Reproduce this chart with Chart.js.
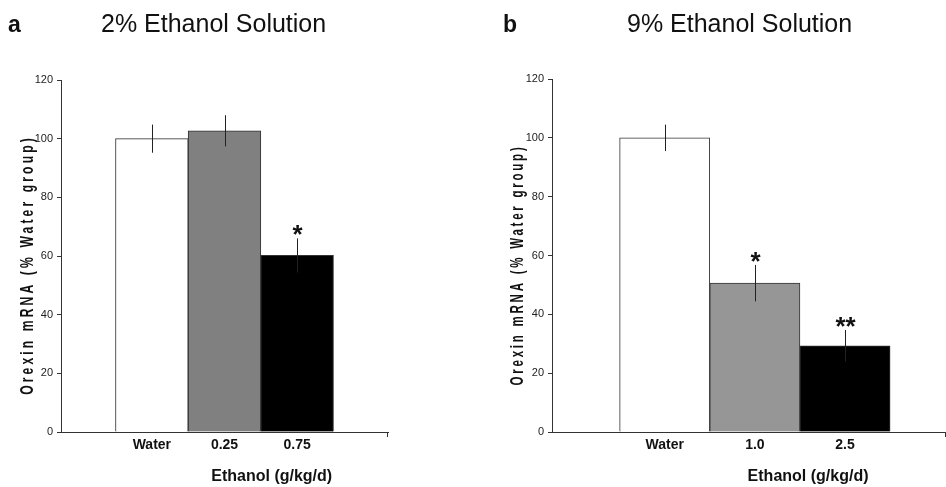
<!DOCTYPE html>
<html>
<head>
<meta charset="utf-8">
<script src="https://cdn.jsdelivr.net/npm/chart.js@4.4.1/dist/chart.umd.min.js"></script>
<style>
  html, body { margin: 0; padding: 0; background: #ffffff; }
  #wrap { position: relative; width: 946px; height: 487px; overflow: hidden; background: #fff; }
  canvas { position: absolute; top: 0; }
  .t { position: absolute; font-family: "Liberation Sans", Arial, sans-serif; color: #111; white-space: nowrap; line-height: 1; }
  .letter { font-weight: bold; font-size: 23px; }
  .title { font-size: 25px; }
</style>
</head>
<body>
<div id="wrap">
  <canvas id="cA" width="470" height="487" style="left:0px"></canvas>
  <canvas id="cB" width="476" height="487" style="left:470px"></canvas>
  <div class="t letter" style="left:8px;top:13px">a</div>
  <div class="t title" style="left:101px;top:11px">2% Ethanol Solution</div>
  <div class="t letter" style="left:503px;top:13px">b</div>
  <div class="t title" style="left:627px;top:11px">9% Ethanol Solution</div>
</div>
<script>
// ---- data ----
const catsA = ["Water", "0.25", "0.75"];
const meanA = [100, 102.7, 60.2];
const semA  = [4.8, 5.3, 5.8];
const sigA  = ["", "", "*"];

const catsB = ["Water", "1.0", "2.5"];
const meanB = [100, 50.6, 29.3];
const semB  = [4.5, 6.2, 5.4];
const sigB  = ["", "*", "**"];

const yMin = 0, yMax = 120, yStep = 20;
const xTitle = "Ethanol (g/kg/d)";
const yTitle = "Orexin mRNA (% Water group)";

const FONT = '"Liberation Sans", Arial, sans-serif';

const overlay = {
  id: 'overlay',
  afterDatasetsDraw(chart, args, o) {
    const ctx = chart.ctx;
    const xs = chart.scales.x, ys = chart.scales.y;
    const meta = chart.getDatasetMeta(0);
    const ca = chart.chartArea;
    ctx.save();
    // error bars + significance marks
    meta.data.forEach((el, i) => {
      const x = Math.round(el.x) + 0.5;
      const t = ys.getPixelForValue(o.means[i] + o.sems[i]);
      const b = ys.getPixelForValue(o.means[i] - o.sems[i]);
      ctx.strokeStyle = '#222';
      ctx.lineWidth = 1;
      ctx.beginPath(); ctx.moveTo(x, t); ctx.lineTo(x, b); ctx.stroke();
      if (o.sigs[i]) {
        ctx.fillStyle = '#111';
        ctx.font = 'bold 26px ' + FONT;
        ctx.textAlign = 'center';
        ctx.textBaseline = 'alphabetic';
        ctx.fillText(o.sigs[i], x, t + 5);
      }
    });
    // small tick at the right end of the x axis
    ctx.strokeStyle = '#333';
    ctx.lineWidth = 1;
    const rx = Math.round(ca.right) - 0.5;
    ctx.beginPath(); ctx.moveTo(rx, ca.bottom); ctx.lineTo(rx, ca.bottom + 5); ctx.stroke();
    // x title
    ctx.fillStyle = '#111';
    ctx.font = 'bold 16px ' + FONT;
    ctx.textAlign = 'center';
    ctx.textBaseline = 'alphabetic';
    ctx.fillText(xTitle, xs.getPixelForValue(o.xTitleAt), 481);
    // y title (narrow glyphs, wide spacing)
    ctx.translate(o.yTitleX, o.yTitleY);
    ctx.rotate(-Math.PI / 2);
    ctx.scale(0.64, 1);
    ctx.font = 'bold ' + o.yTitleSize + 'px ' + FONT;
    if ('letterSpacing' in ctx) ctx.letterSpacing = o.yTitleSpacing + 'px';
    ctx.textAlign = 'center';
    ctx.textBaseline = 'middle';
    ctx.fillText(yTitle, 0, 0);
    ctx.restore();
  }
};

function build(id, cats, means, sems, sigs, p) {
  return new Chart(document.getElementById(id), {
    type: 'bar',
    data: {
      datasets: [{
        data: means.map((v, i) => ({ x: i, y: v })),
        backgroundColor: p.fills,
        borderColor: '#333',
        borderWidth: 1,
        barPercentage: 1,
        categoryPercentage: 1
      }]
    },
    options: {
      responsive: false,
      animation: false,
      devicePixelRatio: 1,
      layout: { padding: { left: 0, top: p.top, right: p.padRight, bottom: 0 } },
      plugins: {
        legend: { display: false },
        tooltip: { enabled: false },
        overlay: {
          means: means, sems: sems, sigs: sigs,
          xTitleAt: p.xTitleAt,
          yTitleX: p.yTitleX, yTitleY: 265,
          yTitleSize: p.yTitleSize, yTitleSpacing: p.yTitleSpacing
        }
      },
      scales: {
        x: {
          type: 'linear',
          offset: false,
          min: -1.25,
          max: p.xMax,
          afterBuildTicks: (s) => { s.ticks = cats.map((_, i) => ({ value: i })); },
          afterFit: (s) => { s.height = 55; },
          grid: { display: false, drawTicks: false },
          border: { display: true, color: '#333', width: 1 },
          ticks: {
            autoSkip: false, maxRotation: 0, padding: 5,
            color: '#111',
            font: { family: FONT, size: 14, weight: 'bold' },
            callback: (v, i) => cats[i]
          }
        },
        y: {
          min: yMin, max: yMax,
          afterFit: (s) => { s.width = p.yWidth; },
          grid: { display: true, drawOnChartArea: false, drawTicks: true, tickLength: 4, color: '#333' },
          border: { display: true, color: '#333', width: 1 },
          ticks: {
            stepSize: yStep, padding: 4, color: '#222',
            font: { family: FONT, size: 11 }
          }
        }
      }
    },
    plugins: [overlay]
  });
}

build('cA', catsA, meanA, semA, sigA, {
  fills: ['#ffffff', '#808080', '#000000'],
  top: 80, padRight: 82, yWidth: 61, xMax: 3.25,
  xTitleAt: 1.65, yTitleX: 28, yTitleSize: 19, yTitleSpacing: 4.85
});
build('cB', catsB, meanB, semB, sigB, {
  fills: ['#ffffff', '#969696', '#000000'],
  top: 79, padRight: 0, yWidth: 82, xMax: 3.12,
  xTitleAt: 1.59, yTitleX: 48, yTitleSize: 18, yTitleSpacing: 4.3
});
</script>
</body>
</html>
